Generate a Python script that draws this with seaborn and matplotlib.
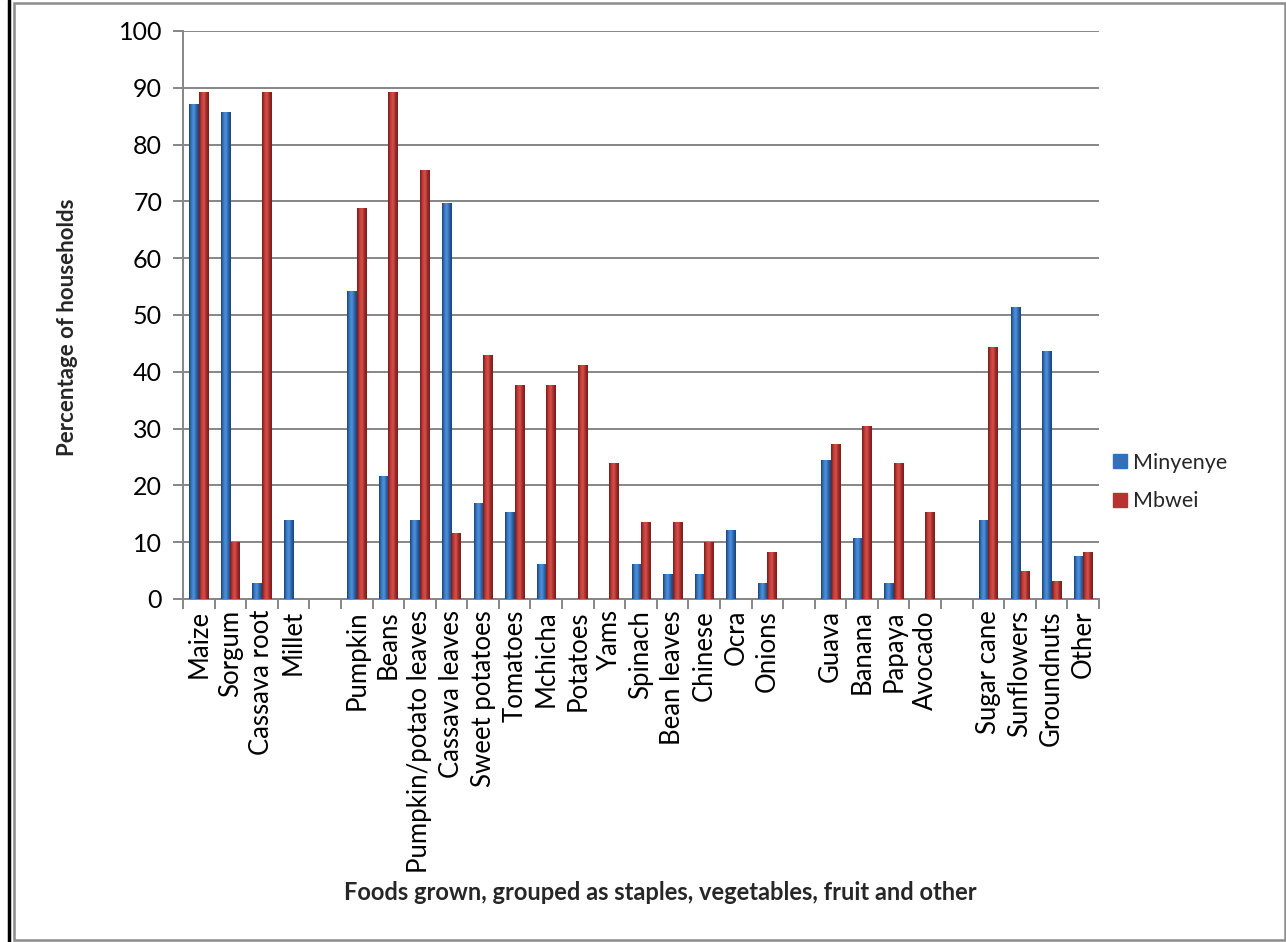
import numpy as np
import pandas as pd
import matplotlib
matplotlib.use("Agg")
import matplotlib.pyplot as plt
from matplotlib.colors import LinearSegmentedColormap
from matplotlib.patches import Rectangle
from matplotlib.lines import Line2D
import seaborn as sns

# Foods grown, with empty slots separating staples / vegetables / fruit / other
foods = ["Maize", "Sorgum", "Cassava root", "Millet", "",
         "Pumpkin", "Beans", "Pumpkin/potato leaves", "Cassava leaves",
         "Sweet potatoes", "Tomatoes", "Mchicha", "Potatoes", "Yams",
         "Spinach", "Bean leaves", "Chinese", "Ocra", "Onions", " ",
         "Guava", "Banana", "Papaya", "Avocado", "  ",
         "Sugar cane", "Sunflowers", "Groundnuts", "Other"]

minyenye = [87.1, 85.8, 2.9, 13.9, 0,
            54.3, 21.7, 13.9, 69.8, 16.9, 15.4, 6.1, 0, 0,
            6.1, 4.4, 4.4, 12.2, 2.9, 0,
            24.5, 10.7, 2.9, 0, 0,
            13.9, 51.4, 43.6, 7.5]

mbwei = [89.3, 10.0, 89.3, 0, 0,
         68.8, 89.3, 75.5, 11.7, 43.0, 37.6, 37.6, 41.2, 23.9,
         13.5, 13.5, 10.0, 0, 8.2, 0,
         27.3, 30.5, 23.9, 15.3, 0,
         44.3, 5.0, 3.2, 8.2]

villages = ["Minyenye", "Mbwei"]
yticks = list(range(0, 101, 10))

df = pd.DataFrame({
    "food": foods * 2,
    "village": [villages[0]] * len(foods) + [villages[1]] * len(foods),
    "pct": minyenye + mbwei,
})

sns.set_theme(style="white")
plt.rcParams["font.family"] = ["Lato", "DejaVu Sans"]

blue, red = "#3470b8", "#b83230"
fig = plt.figure(figsize=(12.86, 9.42), dpi=100)
ax = fig.add_axes([183 / 1286, 1 - 599 / 942, (1099 - 183) / 1286, (599 - 31) / 942])

sns.barplot(data=df, x="food", y="pct", hue="village", order=foods,
            hue_order=villages, palette=[blue, red], width=0.6,
            saturation=1, errorbar=None, legend=False, ax=ax, zorder=3)

# Cylinder-like horizontal shading on each bar
cmaps = [
    LinearSegmentedColormap.from_list("b", ["#1a3f70", "#3a7cc8", "#4f92de", "#2c62a6", "#1a4278"]),
    LinearSegmentedColormap.from_list("r", ["#701a18", "#c23c38", "#d8524c", "#a02a28", "#741e1c"]),
]
grad = np.linspace(0, 1, 64).reshape(1, -1)
for cont, cmap in zip(ax.containers, cmaps):
    for p in cont.patches:
        h = p.get_height()
        p.set_edgecolor("none")
        if not np.isfinite(h) or h <= 0:
            p.set_visible(False)
            continue
        x0 = p.get_x()
        w = p.get_width()
        im = ax.imshow(grad, cmap=cmap, aspect="auto",
                       extent=(x0, x0 + w, 0, h), zorder=4, interpolation="bicubic")
        im.set_clip_path(p)

ax.set_xlim(-0.5, len(foods) - 0.5)
ax.set_ylim(0, 100)
ax.set_yticks(yticks)
ax.yaxis.grid(True, color="#868686", linewidth=1.4, zorder=0)
ax.set_axisbelow(True)
for s in ["top", "right"]:
    ax.spines[s].set_visible(False)
for s in ["left", "bottom"]:
    ax.spines[s].set_color("#868686")
    ax.spines[s].set_linewidth(1.4)

ax.tick_params(axis="y", left=True, length=7, width=1.4, color="#868686",
               labelsize=18, pad=8, labelcolor="black")
ax.set_xticks(range(len(foods)))
ax.set_xticklabels(foods, rotation=90, fontsize=18.5, va="top", ha="center")
ax.tick_params(axis="x", bottom=False, pad=2, labelcolor="black")
ax.set_xticks(np.arange(-0.5, len(foods), 1), minor=True)
ax.tick_params(axis="x", which="minor", bottom=True, length=7, width=1.4,
               color="#868686")
ax.set_xlabel("")
ax.set_ylabel("")

fig.text(68 / 1286, 1 - 327 / 942, "Percentage of households", rotation=90,
         ha="center", va="center", fontsize=16, fontweight="bold")
fig.text(660 / 1286, 1 - 893 / 942,
         "Foods grown, grouped as staples, vegetables, fruit and other",
         ha="center", va="center", fontsize=17, fontweight="bold")

handles = [Line2D([], [], marker="s", linestyle="none", markersize=10,
                  markerfacecolor=c, markeredgecolor=c) for c in (blue, red)]
fig.legend(handles, villages, loc="center left",
           bbox_to_anchor=(1090 / 1286, 1 - 482 / 942), frameon=False,
           fontsize=15.5, handletextpad=0.1, labelspacing=0.85, handlelength=1.0)

# Chart frame
fig.add_artist(Rectangle((13.5 / 1286, 2.5 / 942), (1285 - 13.5) / 1286, (939.5 - 2.5) / 942,
                         transform=fig.transFigure, fill=False,
                         edgecolor="#8c8c8c", linewidth=1.8))
fig.add_artist(Line2D([9 / 1286, 9 / 1286], [0, 1], transform=fig.transFigure,
                      color="black", linewidth=2.5))

fig.savefig("out.png", dpi=100, facecolor="white")
